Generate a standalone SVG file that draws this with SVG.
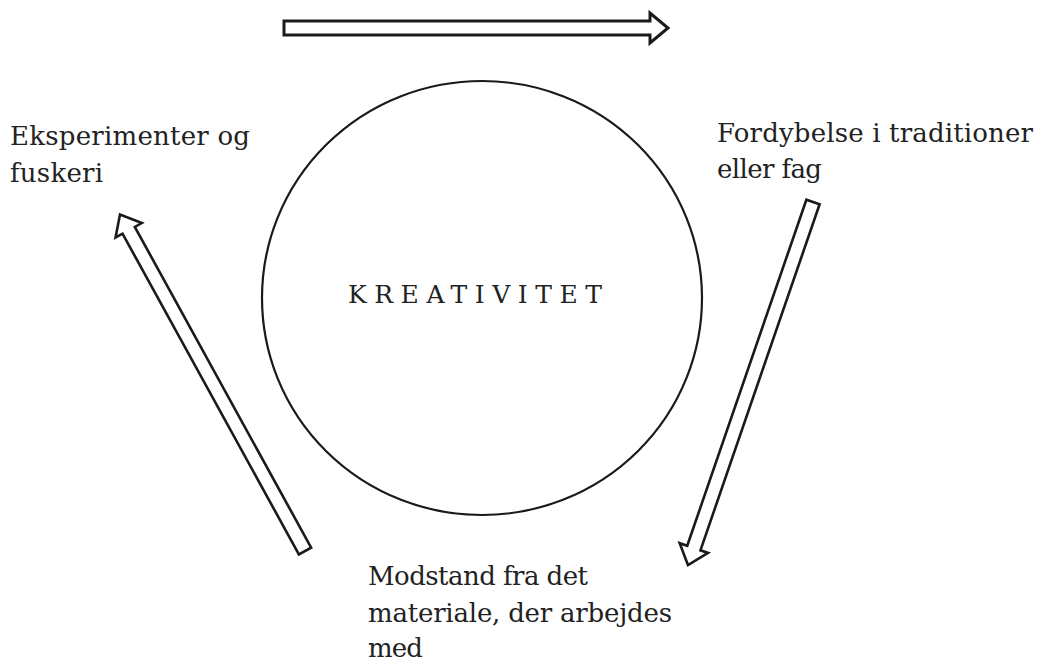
<svg xmlns="http://www.w3.org/2000/svg" width="1037" height="662" viewBox="0 0 1037 662">
  <style>
    .lbl { font-family: "DejaVu Serif", "Liberation Serif", serif; font-size: 26px; fill: #222; }
    .title { font-family: "DejaVu Serif", "Liberation Serif", serif; font-size: 25px; fill: #222; }
    .arrow { fill: #fff; stroke: #1a1a1a; stroke-width: 2.6; stroke-linejoin: miter; }
  </style>
  <defs>
    <path id="blockArrow" d="M0,-7 L366,-7 L366,-15 L384,0 L366,15 L366,7 L0,7 Z"/>
  </defs>
  <rect width="1037" height="662" fill="#fff"/>

  <g id="connectors">
    <use href="#blockArrow" class="arrow" transform="translate(284,28)" style="stroke-width:3"/>
    <use href="#blockArrow" class="arrow" transform="translate(813,202) rotate(109)"/>
    <use href="#blockArrow" class="arrow" transform="translate(305,551) rotate(-118.8)"/>
  </g>

  <g id="node-kreativitet">
    <ellipse cx="482" cy="298" rx="220" ry="217" fill="none" stroke="#1a1a1a" stroke-width="2.2"/>
    <text class="title" x="348" y="303" textLength="254">KREATIVITET</text>
  </g>

  <g id="node-fordybelse">
    <text class="lbl" x="717" y="142" textLength="316">Fordybelse i traditioner</text>
    <text class="lbl" x="717" y="178" textLength="105">eller fag</text>
  </g>

  <g id="node-modstand">
    <text class="lbl" x="368" y="585" textLength="220">Modstand fra det</text>
    <text class="lbl" x="368" y="622" textLength="304">materiale, der arbejdes</text>
    <text class="lbl" x="368" y="657" textLength="55">med</text>
  </g>

  <g id="node-eksperimenter">
    <text class="lbl" x="10" y="145" textLength="240">Eksperimenter og</text>
    <text class="lbl" x="10" y="182" textLength="93">fuskeri</text>
  </g>
</svg>
